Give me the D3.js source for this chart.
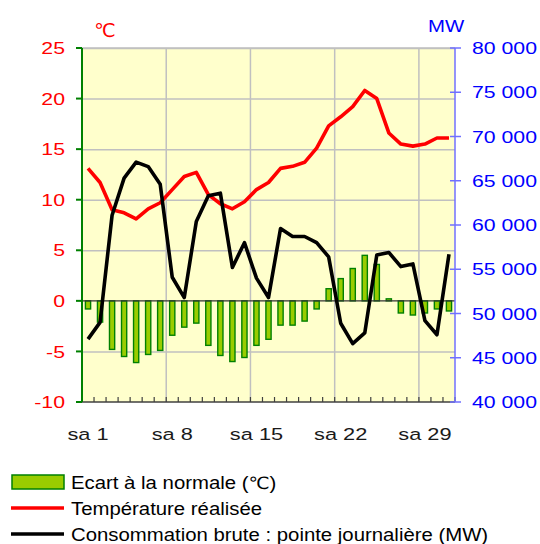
<!DOCTYPE html>
<html>
<head>
<meta charset="utf-8">
<script src="https://cdn.jsdelivr.net/npm/d3@7"></script>
<style>
  body { margin: 0; background: #fff; }
  text { font-family: "Liberation Sans", Arial, sans-serif; }
  .deg { font-family: "DejaVu Sans", sans-serif; }
</style>
</head>
<body>
<svg id="chart"></svg>
<script>
// days of the month (categories)
const days = [1,2,3,4,5,6,7,8,9,10,11,12,13,14,15,16,17,18,19,20,21,22,23,24,25,26,27,28,29,30,31];
const dayLabels = {1: "sa 1", 8: "sa 8", 15: "sa 15", 22: "sa 22", 29: "sa 29"};

// écart à la normale (°C)
const ecart = [-0.8, -2.1, -4.8, -5.5, -6.1, -5.3, -4.9, -3.4, -2.6, -2.2, -4.4, -5.4, -6.0, -5.6, -4.4, -3.8,
               -2.4, -2.4, -2.0, -0.8, 1.2, 2.2, 3.2, 4.5, 3.6, 0.2, -1.2, -1.4, -1.2, -0.8, -1.0];
// température réalisée (°C)
const temperature = [13.1, 11.7, 9.0, 8.7, 8.1, 9.1, 9.7, 11.0, 12.3, 12.7, 10.5, 9.6, 9.1, 9.8, 11.0, 11.7,
                     13.1, 13.3, 13.7, 15.1, 17.3, 18.2, 19.2, 20.8, 20.0, 16.6, 15.5, 15.3, 15.5, 16.1, 16.1];
// consommation brute : pointe journalière (MW)
const consommation = [47100, 49000, 61100, 65300, 67100, 66600, 64600, 54100, 51800, 60400, 63300, 63600,
                      55200, 58000, 54000, 51800, 59600, 58700, 58700, 58000, 56400, 48900, 46600, 47800,
                      56600, 56900, 55300, 55600, 49200, 47600, 56700];

const tempTicks = [-10, -5, 0, 5, 10, 15, 20, 25];
const mwTicks = [40000, 45000, 50000, 55000, 60000, 65000, 70000, 75000, 80000];

const legendItems = [
  { label: "Ecart à la normale (", deg: true, type: "bar" },
  { label: "Température réalisée", type: "line", color: "#ff0000" },
  { label: "Consommation brute : pointe journalière (MW)", type: "line", color: "#000000" }
];

class DualAxisChart {
  constructor(_config) {
    this.config = {
      parentElement: _config.parentElement,
      containerWidth: _config.containerWidth || 540,
      containerHeight: _config.containerHeight || 544,
      margin: { top: 48, bottom: 142, right: 85, left: 82 }
    }
    this.initVis();
  }

  initVis() {
    let vis = this;
    const m = vis.config.margin;
    vis.width = vis.config.containerWidth - m.left - m.right;
    vis.height = vis.config.containerHeight - m.top - m.bottom;

    vis.svg = d3.select(vis.config.parentElement)
        .attr('width', vis.config.containerWidth)
        .attr('height', vis.config.containerHeight);

    vis.chart = vis.svg.append('g')
        .attr('transform', `translate(${m.left},${m.top})`);

    vis.xScale = d3.scaleBand().domain(days).range([0, vis.width]).padding(0);
    vis.yScale = d3.scaleLinear().domain([-10, 25]).range([vis.height, 0]);
    vis.y2Scale = d3.scaleLinear().domain([40000, 80000]).range([vis.height, 0]);

    vis.renderVis();
    vis.renderLegend();
  }

  // stretched text, the original chart font is wider than tall
  stretchText(g, x, y, str, opts) {
    const t = g.append('g')
        .attr('transform', `translate(${x},${y}) scale(${opts.sx || 1.25},1)`)
      .append('text')
        .attr('text-anchor', opts.anchor || 'start')
        .attr('dy', opts.dy || 0)
        .style('font-size', (opts.size || 17) + 'px')
        .attr('fill', opts.color)
        .text(str);
    return t;
  }

  renderVis() {
    let vis = this;
    const bw = vis.xScale.bandwidth();

    // plot background
    vis.chart.append('rect')
        .attr('width', vis.width)
        .attr('height', vis.height)
        .attr('fill', '#ffffcc');

    // horizontal grid
    vis.chart.append('g')
        .call(d3.axisLeft(vis.yScale).tickValues(tempTicks.filter(d => d != 0 && d != -10))
          .tickSize(-vis.width).tickFormat(''))
        .call(g => g.select('.domain').remove())
        .selectAll('line').attr('stroke', '#c0c0c0').attr('stroke-width', 1.5);

    // vertical grid every week
    vis.chart.append('g')
        .selectAll('line')
        .data([7, 14, 21, 28])
        .join('line')
          .attr('x1', d => vis.xScale(d) + bw)
          .attr('x2', d => vis.xScale(d) + bw)
          .attr('y1', 0)
          .attr('y2', vis.height)
          .attr('stroke', '#c0c0c0')
          .attr('stroke-width', 1.5);

    // bars
    vis.chart.selectAll('.bar')
        .data(days)
        .join('rect')
          .attr('class', 'bar')
          .attr('x', d => vis.xScale(d) + bw / 2 - 2.6)
          .attr('width', 5.2)
          .attr('y', (d, i) => vis.yScale(Math.max(0, ecart[i])))
          .attr('height', (d, i) => Math.abs(vis.yScale(ecart[i]) - vis.yScale(0)))
          .attr('fill', '#99cc00')
          .attr('stroke', '#008000')
          .attr('stroke-width', 1.4);

    // zero line
    vis.chart.append('line')
        .attr('x1', 0).attr('x2', vis.width)
        .attr('y1', vis.yScale(0)).attr('y2', vis.yScale(0))
        .attr('stroke', '#333')
        .attr('stroke-width', 1.2);

    // temperature line
    vis.chart.append('path')
        .datum(temperature)
        .attr('fill', 'none')
        .attr('stroke', '#ff0000')
        .attr('stroke-width', 3.6)
        .attr('stroke-linejoin', 'round')
        .attr('d', d3.line()
          .x((d, i) => vis.xScale(days[i]) + bw / 2)
          .y(d => vis.yScale(d)));

    // consumption line
    vis.chart.append('path')
        .datum(consommation)
        .attr('fill', 'none')
        .attr('stroke', '#000000')
        .attr('stroke-width', 3.6)
        .attr('stroke-linejoin', 'round')
        .attr('d', d3.line()
          .x((d, i) => vis.xScale(days[i]) + bw / 2)
          .y(d => vis.y2Scale(d)));

    // top border
    vis.chart.append('line')
        .attr('x1', 0).attr('x2', vis.width)
        .attr('y1', 0).attr('y2', 0)
        .attr('stroke', '#c0c0c0').attr('stroke-width', 1.5);

    // bottom axis with minor ticks pointing inward
    const xAxis = vis.chart.append('g')
        .attr('transform', `translate(0,${vis.height})`);
    xAxis.append('line')
        .attr('x1', 0).attr('x2', vis.width)
        .attr('stroke', '#404040').attr('stroke-width', 1.5);
    xAxis.selectAll('.minor')
        .data(days)
        .join('line')
          .attr('class', 'minor')
          .attr('x1', d => vis.xScale(d) + bw)
          .attr('x2', d => vis.xScale(d) + bw)
          .attr('y1', 0).attr('y2', -5)
          .attr('stroke', '#404040').attr('stroke-width', 1.2);
    Object.keys(dayLabels).forEach(k => {
      vis.stretchText(xAxis, vis.xScale(+k) + bw / 2, 38, dayLabels[k],
        { anchor: 'middle', color: '#1a1a1a', size: 16.5, sx: 1.32 });
    });

    // left axis (°C)
    const yAxis = vis.chart.append('g');
    yAxis.append('line')
        .attr('y1', 0).attr('y2', vis.height)
        .attr('stroke', '#008000').attr('stroke-width', 2);
    tempTicks.forEach(t => {
      yAxis.append('line')
          .attr('x1', -6).attr('x2', 0)
          .attr('y1', vis.yScale(t)).attr('y2', vis.yScale(t))
          .attr('stroke', '#008000').attr('stroke-width', 2);
      vis.stretchText(yAxis, -17, vis.yScale(t), t, { anchor: 'end', color: '#ff0000', dy: '0.36em' });
    });
    vis.stretchText(yAxis, 23, -11, '℃', { anchor: 'middle', color: '#ff0000', size: 19, sx: 1.0 })
        .attr('class', 'deg');

    // right axis (MW)
    const fr = d3.formatLocale({ decimal: ',', thousands: ' ', grouping: [3], currency: ['', ''] });
    const y2Axis = vis.chart.append('g')
        .attr('transform', `translate(${vis.width},0)`);
    y2Axis.append('line')
        .attr('y1', 0).attr('y2', vis.height)
        .attr('stroke', '#7070ff').attr('stroke-width', 1.5);
    mwTicks.forEach(t => {
      y2Axis.append('line')
          .attr('x1', -5).attr('x2', 6)
          .attr('y1', vis.y2Scale(t)).attr('y2', vis.y2Scale(t))
          .attr('stroke', '#7070ff').attr('stroke-width', 1.5);
      vis.stretchText(y2Axis, 17, vis.y2Scale(t), fr.format(',')(t), { color: '#0000ff', dy: '0.36em' });
    });
    vis.stretchText(y2Axis, -27, -16, 'MW', { color: '#0000ff', size: 17, sx: 1.2 });
  }

  renderLegend() {
    let vis = this;
    const leg = vis.svg.append('g')
        .attr('transform', 'translate(11,482)');

    legendItems.forEach((d, i) => {
      const y = i * 26;
      if (d.type == 'bar') {
        leg.append('rect')
            .attr('x', 1).attr('y', y - 7)
            .attr('width', 52).attr('height', 14)
            .attr('fill', '#99cc00')
            .attr('stroke', '#008000')
            .attr('stroke-width', 1.5);
      } else {
        leg.append('line')
            .attr('x1', 0).attr('x2', 53)
            .attr('y1', y).attr('y2', y)
            .attr('stroke', d.color)
            .attr('stroke-width', 3.5);
      }
      const t = vis.stretchText(leg, 60, y, d.label, { color: '#000', size: 18.5, sx: 1.1, dy: '0.36em' });
      if (d.deg) {
        t.append('tspan').attr('class', 'deg').style('font-size', '17px').text('℃');
        t.append('tspan').text(')');
      }
    });
  }
}

new DualAxisChart({ parentElement: '#chart' });
</script>
</body>
</html>
